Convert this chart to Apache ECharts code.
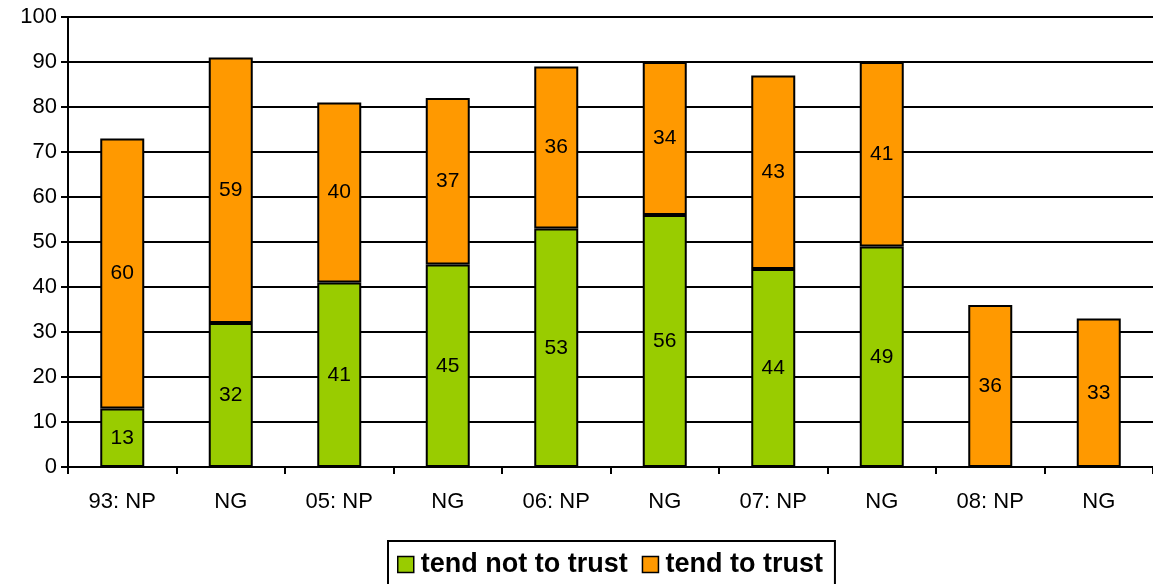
<!DOCTYPE html>
<html>
<head>
<meta charset="utf-8">
<script src="https://cdn.jsdelivr.net/npm/echarts@6/dist/echarts.min.js"></script>
<style>html,body{margin:0;padding:0;background:#fff;}#c{width:1153px;height:584px;}</style>
</head>
<body>
<div id="c"></div>
<script>
var categories = ['93: NP', 'NG', '05: NP', 'NG', '06: NP', 'NG', '07: NP', 'NG', '08: NP', 'NG'];
var notTrust = [13, 32, 41, 45, 53, 56, 44, 49, null, null];
var trust = [60, 59, 40, 37, 36, 34, 43, 41, 36, 33];
var yTicks = {min: 0, max: 100, interval: 10};

var chart = echarts.init(document.getElementById('c'));
var font = 'Liberation Sans, Arial, sans-serif';
var labelCfg = {
  show: true, position: 'inside', color: '#000', fontSize: 21, fontFamily: font,
  formatter: function (p) { return p.value == null ? '' : p.value; }
};
chart.setOption({
  animation: false,
  grid: {left: 68, top: 17, width: 1095, height: 450},
  legend: {
    top: 541, left: 388,
    data: ['tend not to trust', 'tend to trust'],
    itemWidth: 16, itemHeight: 16, itemGap: 14,
    borderColor: '#000', borderWidth: 2,
    padding: [10, 12, 20, 9],
    textStyle: {fontSize: 27, fontWeight: 'bold', color: '#000', fontFamily: font, padding: [0, 0, 0, 2]},
    itemStyle: {borderColor: '#000', borderWidth: 1.5},
    icon: 'rect'
  },
  xAxis: {
    type: 'category', data: categories,
    axisLine: {lineStyle: {color: '#000', width: 2}},
    axisTick: {show: true, length: 7, lineStyle: {color: '#000', width: 2}},
    axisLabel: {color: '#000', fontSize: 22, fontFamily: font, margin: 24}
  },
  yAxis: {
    type: 'value', min: yTicks.min, max: yTicks.max, interval: yTicks.interval,
    axisLine: {show: true, lineStyle: {color: '#000', width: 2}},
    axisTick: {show: true, length: 7, lineStyle: {color: '#000', width: 2}},
    splitLine: {lineStyle: {color: '#000', width: 2}},
    axisLabel: {color: '#000', fontSize: 22, fontFamily: font, margin: 11}
  },
  series: [
    {name: 'tend not to trust', type: 'bar', stack: 's', data: notTrust, barWidth: 44,
     itemStyle: {color: '#99CC00', borderColor: '#000', borderWidth: 2}, label: labelCfg},
    {name: 'tend to trust', type: 'bar', stack: 's', data: trust, barWidth: 44,
     itemStyle: {color: '#FF9900', borderColor: '#000', borderWidth: 2}, label: labelCfg}
  ]
});
</script>
</body>
</html>
